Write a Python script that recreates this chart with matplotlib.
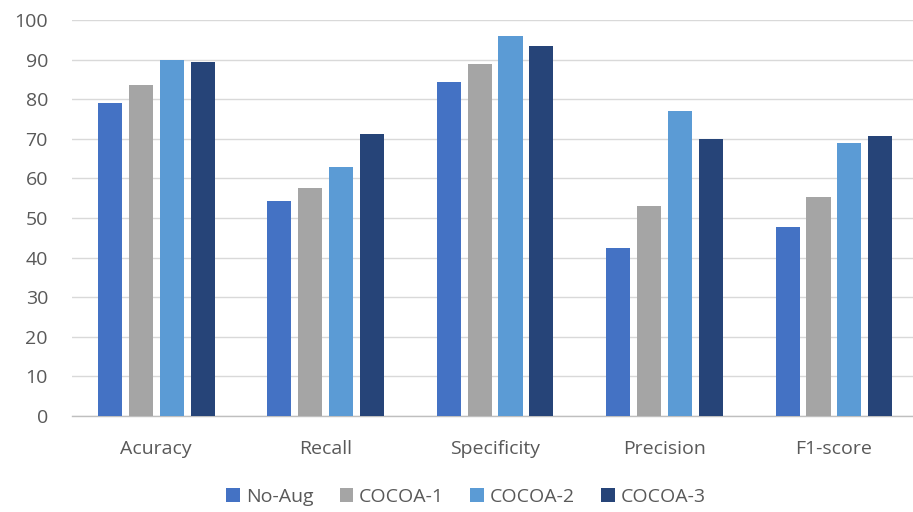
import matplotlib
matplotlib.use("Agg")
import matplotlib.pyplot as plt
import numpy as np

categories = ["Acuracy", "Recall", "Specificity", "Precision", "F1-score"]
series_names = ["No-Aug", "COCOA-1", "COCOA-2", "COCOA-3"]
no_aug = [79.0, 54.3, 84.3, 42.5, 47.7]
cocoa_1 = [83.5, 57.7, 88.9, 53.0, 55.2]
cocoa_2 = [90.0, 62.8, 95.9, 76.9, 69.0]
cocoa_3 = [89.5, 71.3, 93.4, 70.0, 70.7]
y_ticks = [0, 10, 20, 30, 40, 50, 60, 70, 80, 90, 100]

colors = ["#4472C4", "#A5A5A5", "#5B9BD5", "#264478"]
text_color = "#595959"

plt.rcParams["font.family"] = ["Open Sans", "DejaVu Sans"]

W, H = 913, 512
fig = plt.figure(figsize=(W / 100, H / 100), dpi=100)
left_px, right_px, top_px, bottom_px = 71.6, 913, 20, 416
ax = fig.add_axes([left_px / W, 1 - bottom_px / H,
                   (right_px - left_px) / W, (bottom_px - top_px) / H])

x = np.arange(len(categories))
pitch = 0.182
width = 0.142
for i, (name, vals) in enumerate(zip(series_names, [no_aug, cocoa_1, cocoa_2, cocoa_3])):
    ax.bar(x + (i - 1.5) * pitch, vals, width=width, color=colors[i], label=name, zorder=3)

group_px = 169.4
ax.set_xlim(-0.5, -0.5 + (right_px - left_px) / group_px)
ax.set_ylim(0, 100)
ax.set_yticks(y_ticks)
ax.set_xticks(x)
ax.set_xticklabels(categories)
ax.yaxis.grid(True, color="#D9D9D9", linewidth=1.0, zorder=0)
ax.set_axisbelow(True)

for side in ["top", "right", "left"]:
    ax.spines[side].set_visible(False)
ax.spines["bottom"].set_color("#BFBFBF")
ax.spines["bottom"].set_linewidth(1.0)

ax.tick_params(axis="both", length=0, labelsize=14, colors=text_color)
ax.tick_params(axis="x", pad=17)
ax.tick_params(axis="y", pad=17)

fig.legend(loc="center", bbox_to_anchor=(466 / W, 1 - 497 / H), ncol=4, frameon=False,
           fontsize=14, handlelength=0.7, handleheight=0.7, handletextpad=0.3,
           columnspacing=1.35, labelcolor=text_color)

fig.savefig("out.png", dpi=100, facecolor="white")
